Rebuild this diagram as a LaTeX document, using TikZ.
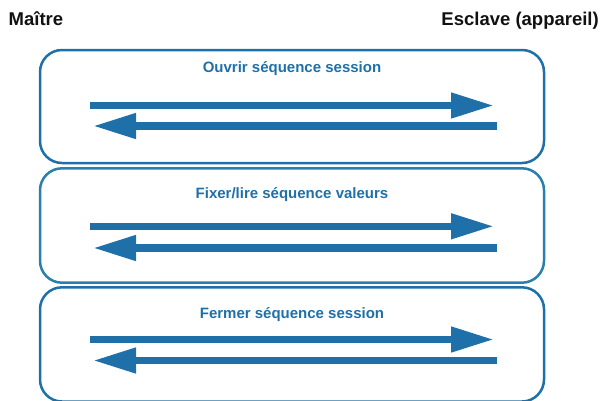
\documentclass[tikz,border=0pt]{standalone}
\usepackage{fontspec}
\setmainfont{Liberation Sans}
\usetikzlibrary{arrows.meta,positioning}
\definecolor{seqblue}{HTML}{1F70A8}
\definecolor{seqteal}{HTML}{2A80AC}
\definecolor{ink}{HTML}{111111}

\begin{document}
\begin{tikzpicture}[
  x=1pt,y=-1pt,
  phase/.style={draw=seqblue,rounded corners=22pt,line width=2.5pt,minimum width=504pt,minimum height=113pt,inner sep=0pt},
  phasename/.style={anchor=base,text=seqblue,font=\fontsize{15}{18}\selectfont\bfseries},
  party/.style={text=ink,inner sep=0pt,font=\fontsize{18.5}{22}\selectfont\bfseries},
  msg/.style={-{Triangle[length=43pt,width=24pt]},draw=seqblue,line width=7.5pt}
]
\useasboundingbox (0,0) rectangle (601,400);
\node[party,anchor=base west] (master) at (8.5,25) {Maître};
\node[party,anchor=base east] (slave) at (599,25) {Esclave (appareil)};
\node[phase] (open) at (292,106.5) {};
\node[phase,draw=seqteal,minimum height=114.4pt] (rw) at (292,225.5) {};
\node[phase,minimum height=114.2pt] (close) at (292,344.4) {};
\node[phasename] (openlbl) at (292,72) {Ouvrir séquence session};
\node[phasename] (rwlbl) at (292,198) {Fixer/lire séquence valeurs};
\node[phasename] (closelbl) at (292,318.3) {Fermer séquence session};
\foreach \s/\ya/\yb in {open/105.5/126,rw/226.3/248,close/339.5/360.5}{
  \coordinate (\s-req-from) at (90,\ya);
  \coordinate (\s-req-to) at (494,\ya);
  \coordinate (\s-ans-from) at (497,\yb);
  \coordinate (\s-ans-to) at (93,\yb);
  \draw[msg] (\s-req-from) -- (\s-req-to);
  \draw[msg] (\s-ans-from) -- (\s-ans-to);
}
\end{tikzpicture}
\end{document}
